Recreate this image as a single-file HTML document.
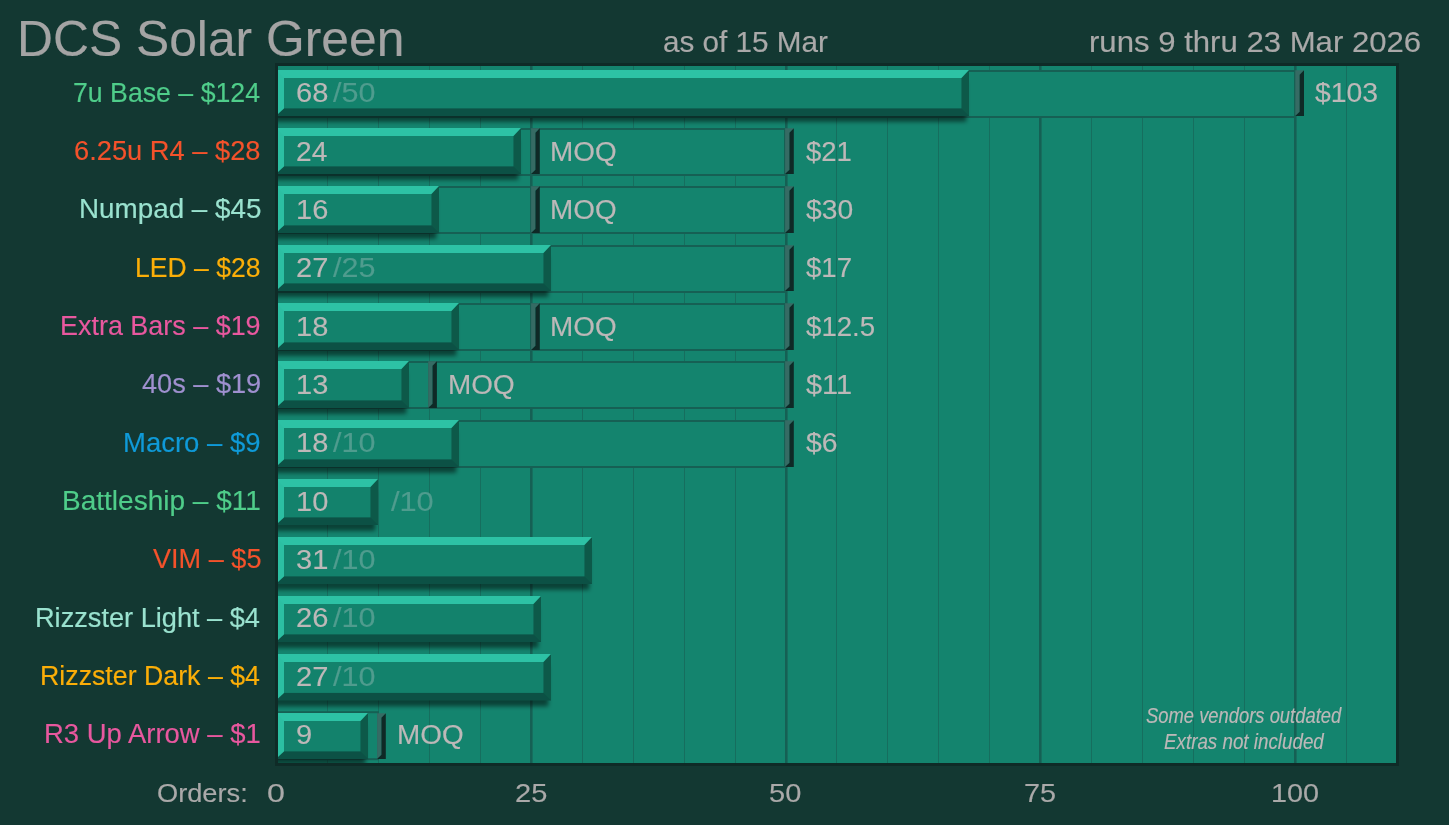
<!DOCTYPE html>
<html lang="en"><head><meta charset="utf-8"><title>DCS Solar Green</title>
<style>
html,body{margin:0;padding:0}
body{width:1449px;height:825px;background:#133832;overflow:hidden;position:relative;font-family:"Liberation Sans",Arial,sans-serif}
#chart{position:absolute;left:0;top:0;width:1449px;height:825px;display:block}
.t{position:absolute;white-space:nowrap;line-height:1;transform-origin:0 0;color:#bdb8b8;-webkit-text-stroke:.15px currentColor}
.tt{color:#a4a4a4}
.hd{color:#aaa9a9}
.ax{color:#aaa9a9}
.rc{color:#4f9c8e}
.nt{font-style:italic;color:#bdb8b8}
</style></head><body>
<svg id="chart" width="1449" height="825" viewBox="0 0 1449 825">
<defs>
<filter id="sh" x="-5%" y="-50%" width="110%" height="200%"><feGaussianBlur stdDeviation="2.3"/></filter>
<clipPath id="cp"><rect x="278" y="66" width="1118" height="697"/></clipPath>
</defs>
<rect x="275" y="63" width="1124" height="703" fill="#0f2b27"/>
<rect x="278" y="66" width="1118" height="697" fill="#14846e"/>
<g clip-path="url(#cp)">
<rect x="275" y="60" width="2" height="710" fill="#156054"/><rect x="277" y="60" width="1" height="710" fill="#166e5e"/>
<rect x="327" y="60" width="1" height="710" fill="#166e5e"/>
<rect x="378" y="60" width="1" height="710" fill="#166e5e"/>
<rect x="429" y="60" width="1" height="710" fill="#166e5e"/>
<rect x="480" y="60" width="1" height="710" fill="#166e5e"/>
<rect x="530" y="60" width="2" height="710" fill="#156054"/><rect x="532" y="60" width="1" height="710" fill="#166e5e"/>
<rect x="582" y="60" width="1" height="710" fill="#166e5e"/>
<rect x="633" y="60" width="1" height="710" fill="#166e5e"/>
<rect x="684" y="60" width="1" height="710" fill="#166e5e"/>
<rect x="735" y="60" width="1" height="710" fill="#166e5e"/>
<rect x="785" y="60" width="2" height="710" fill="#156054"/><rect x="787" y="60" width="1" height="710" fill="#166e5e"/>
<rect x="836" y="60" width="1" height="710" fill="#166e5e"/>
<rect x="887" y="60" width="1" height="710" fill="#166e5e"/>
<rect x="938" y="60" width="1" height="710" fill="#166e5e"/>
<rect x="989" y="60" width="1" height="710" fill="#166e5e"/>
<rect x="1039" y="60" width="2" height="710" fill="#156054"/><rect x="1041" y="60" width="1" height="710" fill="#166e5e"/>
<rect x="1091" y="60" width="1" height="710" fill="#166e5e"/>
<rect x="1142" y="60" width="1" height="710" fill="#166e5e"/>
<rect x="1193" y="60" width="1" height="710" fill="#166e5e"/>
<rect x="1244" y="60" width="1" height="710" fill="#166e5e"/>
<rect x="1294" y="60" width="2" height="710" fill="#156054"/><rect x="1296" y="60" width="1" height="710" fill="#166e5e"/>
<rect x="1346" y="60" width="1" height="710" fill="#166e5e"/>
<rect x="1397" y="60" width="1" height="710" fill="#166e5e"/>
<g><rect x="273.70" y="71.00" width="1021.30" height="46.00" fill="#14846e" stroke="#166054" stroke-width="2.00"/><polygon points="1295.30,70.30 1304.00,70.30 1299.65,74.65 1299.65,111.65 1295.30,116.00" fill="#366b64"/><polygon points="1304.00,70.30 1304.00,116.00 1295.30,116.00 1299.65,111.65 1299.65,74.65" fill="#0f2926"/><rect x="273.30" y="82.00" width="693.00" height="39.80" fill="#000" fill-opacity=".5" filter="url(#sh)"/><rect x="276.00" y="70.00" width="693.00" height="46.00" fill="#0c5145"/><polygon points="969.00,70.00 969.00,116.00 961.50,108.40 961.50,70.00" fill="#0d5949"/><polygon points="276.00,70.00 284.00,70.00 284.00,108.40 276.00,116.00" fill="#2cbfa2"/><polygon points="276.00,70.00 969.00,70.00 961.50,78.00 284.00,78.00" fill="#2dc2a5"/><rect x="284.00" y="78.00" width="677.50" height="30.40" fill="#13826c"/></g>
<g><rect x="273.70" y="129.00" width="511.30" height="46.00" fill="#14846e" stroke="#166054" stroke-width="2.00"/><rect x="273.70" y="129.00" width="257.30" height="46.00" fill="#14846e" stroke="#166054" stroke-width="2.00"/><polygon points="531.10,128.30 539.80,128.30 535.45,132.65 535.45,169.65 531.10,174.00" fill="#366b64"/><polygon points="539.80,128.30 539.80,174.00 531.10,174.00 535.45,169.65 535.45,132.65" fill="#0f2926"/><polygon points="785.10,128.30 793.80,128.30 789.45,132.65 789.45,169.65 785.10,174.00" fill="#366b64"/><polygon points="793.80,128.30 793.80,174.00 785.10,174.00 789.45,169.65 789.45,132.65" fill="#0f2926"/><rect x="273.30" y="140.00" width="245.00" height="39.80" fill="#000" fill-opacity=".5" filter="url(#sh)"/><rect x="276.00" y="128.00" width="245.00" height="46.00" fill="#0c5145"/><polygon points="521.00,128.00 521.00,174.00 513.50,166.40 513.50,128.00" fill="#0d5949"/><polygon points="276.00,128.00 284.00,128.00 284.00,166.40 276.00,174.00" fill="#2cbfa2"/><polygon points="276.00,128.00 521.00,128.00 513.50,136.00 284.00,136.00" fill="#2dc2a5"/><rect x="284.00" y="136.00" width="229.50" height="30.40" fill="#13826c"/></g>
<g><rect x="273.70" y="187.00" width="511.30" height="46.00" fill="#14846e" stroke="#166054" stroke-width="2.00"/><rect x="273.70" y="187.00" width="257.30" height="46.00" fill="#14846e" stroke="#166054" stroke-width="2.00"/><polygon points="531.10,186.30 539.80,186.30 535.45,190.65 535.45,228.65 531.10,233.00" fill="#366b64"/><polygon points="539.80,186.30 539.80,233.00 531.10,233.00 535.45,228.65 535.45,190.65" fill="#0f2926"/><polygon points="785.10,186.30 793.80,186.30 789.45,190.65 789.45,228.65 785.10,233.00" fill="#366b64"/><polygon points="793.80,186.30 793.80,233.00 785.10,233.00 789.45,228.65 789.45,190.65" fill="#0f2926"/><rect x="273.30" y="198.00" width="163.00" height="40.80" fill="#000" fill-opacity=".5" filter="url(#sh)"/><rect x="276.00" y="186.00" width="163.00" height="47.00" fill="#0c5145"/><polygon points="439.00,186.00 439.00,233.00 431.50,225.40 431.50,186.00" fill="#0d5949"/><polygon points="276.00,186.00 284.00,186.00 284.00,225.40 276.00,233.00" fill="#2cbfa2"/><polygon points="276.00,186.00 439.00,186.00 431.50,194.00 284.00,194.00" fill="#2dc2a5"/><rect x="284.00" y="194.00" width="147.50" height="31.40" fill="#13826c"/></g>
<g><rect x="273.70" y="246.00" width="511.30" height="46.00" fill="#14846e" stroke="#166054" stroke-width="2.00"/><polygon points="785.10,245.30 793.80,245.30 789.45,249.65 789.45,286.65 785.10,291.00" fill="#366b64"/><polygon points="793.80,245.30 793.80,291.00 785.10,291.00 789.45,286.65 789.45,249.65" fill="#0f2926"/><rect x="273.30" y="257.00" width="275.00" height="39.80" fill="#000" fill-opacity=".5" filter="url(#sh)"/><rect x="276.00" y="245.00" width="275.00" height="46.00" fill="#0c5145"/><polygon points="551.00,245.00 551.00,291.00 543.50,283.40 543.50,245.00" fill="#0d5949"/><polygon points="276.00,245.00 284.00,245.00 284.00,283.40 276.00,291.00" fill="#2cbfa2"/><polygon points="276.00,245.00 551.00,245.00 543.50,253.00 284.00,253.00" fill="#2dc2a5"/><rect x="284.00" y="253.00" width="259.50" height="30.40" fill="#13826c"/></g>
<g><rect x="273.70" y="304.00" width="511.30" height="46.00" fill="#14846e" stroke="#166054" stroke-width="2.00"/><rect x="273.70" y="304.00" width="257.30" height="46.00" fill="#14846e" stroke="#166054" stroke-width="2.00"/><polygon points="531.10,303.30 539.80,303.30 535.45,307.65 535.45,345.65 531.10,350.00" fill="#366b64"/><polygon points="539.80,303.30 539.80,350.00 531.10,350.00 535.45,345.65 535.45,307.65" fill="#0f2926"/><polygon points="785.10,303.30 793.80,303.30 789.45,307.65 789.45,345.65 785.10,350.00" fill="#366b64"/><polygon points="793.80,303.30 793.80,350.00 785.10,350.00 789.45,345.65 789.45,307.65" fill="#0f2926"/><rect x="273.30" y="315.00" width="183.00" height="40.80" fill="#000" fill-opacity=".5" filter="url(#sh)"/><rect x="276.00" y="303.00" width="183.00" height="47.00" fill="#0c5145"/><polygon points="459.00,303.00 459.00,350.00 451.50,342.40 451.50,303.00" fill="#0d5949"/><polygon points="276.00,303.00 284.00,303.00 284.00,342.40 276.00,350.00" fill="#2cbfa2"/><polygon points="276.00,303.00 459.00,303.00 451.50,311.00 284.00,311.00" fill="#2dc2a5"/><rect x="284.00" y="311.00" width="167.50" height="31.40" fill="#13826c"/></g>
<g><rect x="273.70" y="362.00" width="511.30" height="46.00" fill="#14846e" stroke="#166054" stroke-width="2.00"/><rect x="273.70" y="362.00" width="155.30" height="46.00" fill="#14846e" stroke="#166054" stroke-width="2.00"/><polygon points="428.20,361.30 436.90,361.30 432.55,365.65 432.55,403.65 428.20,408.00" fill="#366b64"/><polygon points="436.90,361.30 436.90,408.00 428.20,408.00 432.55,403.65 432.55,365.65" fill="#0f2926"/><polygon points="785.10,361.30 793.80,361.30 789.45,365.65 789.45,403.65 785.10,408.00" fill="#366b64"/><polygon points="793.80,361.30 793.80,408.00 785.10,408.00 789.45,403.65 789.45,365.65" fill="#0f2926"/><rect x="273.30" y="373.00" width="133.00" height="40.80" fill="#000" fill-opacity=".5" filter="url(#sh)"/><rect x="276.00" y="361.00" width="133.00" height="47.00" fill="#0c5145"/><polygon points="409.00,361.00 409.00,408.00 401.50,400.40 401.50,361.00" fill="#0d5949"/><polygon points="276.00,361.00 284.00,361.00 284.00,400.40 276.00,408.00" fill="#2cbfa2"/><polygon points="276.00,361.00 409.00,361.00 401.50,369.00 284.00,369.00" fill="#2dc2a5"/><rect x="284.00" y="369.00" width="117.50" height="31.40" fill="#13826c"/></g>
<g><rect x="273.70" y="421.00" width="511.30" height="46.00" fill="#14846e" stroke="#166054" stroke-width="2.00"/><polygon points="785.10,420.30 793.80,420.30 789.45,424.65 789.45,462.65 785.10,467.00" fill="#366b64"/><polygon points="793.80,420.30 793.80,467.00 785.10,467.00 789.45,462.65 789.45,424.65" fill="#0f2926"/><rect x="273.30" y="432.00" width="183.00" height="40.80" fill="#000" fill-opacity=".5" filter="url(#sh)"/><rect x="276.00" y="420.00" width="183.00" height="47.00" fill="#0c5145"/><polygon points="459.00,420.00 459.00,467.00 451.50,459.40 451.50,420.00" fill="#0d5949"/><polygon points="276.00,420.00 284.00,420.00 284.00,459.40 276.00,467.00" fill="#2cbfa2"/><polygon points="276.00,420.00 459.00,420.00 451.50,428.00 284.00,428.00" fill="#2dc2a5"/><rect x="284.00" y="428.00" width="167.50" height="31.40" fill="#13826c"/></g>
<g><rect x="273.30" y="491.00" width="102.00" height="39.80" fill="#000" fill-opacity=".5" filter="url(#sh)"/><rect x="276.00" y="479.00" width="102.00" height="46.00" fill="#0c5145"/><polygon points="378.00,479.00 378.00,525.00 370.50,517.40 370.50,479.00" fill="#0d5949"/><polygon points="276.00,479.00 284.00,479.00 284.00,517.40 276.00,525.00" fill="#2cbfa2"/><polygon points="276.00,479.00 378.00,479.00 370.50,487.00 284.00,487.00" fill="#2dc2a5"/><rect x="284.00" y="487.00" width="86.50" height="30.40" fill="#13826c"/></g>
<g><rect x="273.30" y="549.00" width="316.00" height="40.80" fill="#000" fill-opacity=".5" filter="url(#sh)"/><rect x="276.00" y="537.00" width="316.00" height="47.00" fill="#0c5145"/><polygon points="592.00,537.00 592.00,584.00 584.50,576.40 584.50,537.00" fill="#0d5949"/><polygon points="276.00,537.00 284.00,537.00 284.00,576.40 276.00,584.00" fill="#2cbfa2"/><polygon points="276.00,537.00 592.00,537.00 584.50,545.00 284.00,545.00" fill="#2dc2a5"/><rect x="284.00" y="545.00" width="300.50" height="31.40" fill="#13826c"/></g>
<g><rect x="273.30" y="608.00" width="265.00" height="39.80" fill="#000" fill-opacity=".5" filter="url(#sh)"/><rect x="276.00" y="596.00" width="265.00" height="46.00" fill="#0c5145"/><polygon points="541.00,596.00 541.00,642.00 533.50,634.40 533.50,596.00" fill="#0d5949"/><polygon points="276.00,596.00 284.00,596.00 284.00,634.40 276.00,642.00" fill="#2cbfa2"/><polygon points="276.00,596.00 541.00,596.00 533.50,604.00 284.00,604.00" fill="#2dc2a5"/><rect x="284.00" y="604.00" width="249.50" height="30.40" fill="#13826c"/></g>
<g><rect x="273.30" y="666.00" width="275.00" height="40.30" fill="#000" fill-opacity=".5" filter="url(#sh)"/><rect x="276.00" y="654.00" width="275.00" height="46.50" fill="#0c5145"/><polygon points="551.00,654.00 551.00,700.50 543.50,692.90 543.50,654.00" fill="#0d5949"/><polygon points="276.00,654.00 284.00,654.00 284.00,692.90 276.00,700.50" fill="#2cbfa2"/><polygon points="276.00,654.00 551.00,654.00 543.50,662.00 284.00,662.00" fill="#2dc2a5"/><rect x="284.00" y="662.00" width="259.50" height="30.90" fill="#13826c"/></g>
<g><rect x="273.70" y="712.20" width="104.30" height="47.00" fill="#14846e" stroke="#166054" stroke-width="2.00"/><polygon points="377.10,713.30 385.80,713.30 381.45,717.65 381.45,754.65 377.10,759.00" fill="#366b64"/><polygon points="385.80,713.30 385.80,759.00 377.10,759.00 381.45,754.65 381.45,717.65" fill="#0f2926"/><rect x="273.30" y="725.00" width="92.00" height="39.80" fill="#000" fill-opacity=".5" filter="url(#sh)"/><rect x="276.00" y="713.00" width="92.00" height="46.00" fill="#0c5145"/><polygon points="368.00,713.00 368.00,759.00 360.50,751.40 360.50,713.00" fill="#0d5949"/><polygon points="276.00,713.00 284.00,713.00 284.00,751.40 276.00,759.00" fill="#2cbfa2"/><polygon points="276.00,713.00 368.00,713.00 360.50,721.00 284.00,721.00" fill="#2dc2a5"/><rect x="284.00" y="721.00" width="76.50" height="30.40" fill="#13826c"/></g>
</g>
</svg>
<div id="title" class="t tt" style="left:16.56px;top:13.50px;font-size:50.5px;transform:scaleX(0.9858);">DCS Solar Green</div>
<div id="asof" class="t hd" style="left:662.97px;top:28.00px;font-size:28.7px;transform:scaleX(1.0340);">as of 15 Mar</div>
<div id="runs" class="t hd" style="left:1088.62px;top:28.00px;font-size:28.7px;transform:scaleX(1.0849);">runs 9 thru 23 Mar 2026</div>
<div id="orders" class="t ax" style="left:157.27px;top:779.90px;font-size:26.5px;transform:scaleX(1.0271);">Orders:</div>
<div id="tick0" class="t ax" style="left:267.38px;top:779.90px;font-size:26.5px;transform:scaleX(1.2154);">0</div>
<div id="tick25" class="t ax" style="left:514.50px;top:779.90px;font-size:26.5px;transform:scaleX(1.0964);">25</div>
<div id="tick50" class="t ax" style="left:769.20px;top:779.90px;font-size:26.5px;transform:scaleX(1.0964);">50</div>
<div id="tick75" class="t ax" style="left:1023.91px;top:779.90px;font-size:26.5px;transform:scaleX(1.0893);">75</div>
<div id="tick100" class="t ax" style="left:1271.03px;top:779.90px;font-size:26.5px;transform:scaleX(1.0857);">100</div>
<div id="note1" class="t nt" style="left:1145.90px;top:704.90px;font-size:21.2px;transform:scaleX(0.8677);">Some vendors outdated</div>
<div id="note2" class="t nt" style="left:1163.50px;top:730.80px;font-size:21.2px;transform:scaleX(0.8867);">Extras not included</div>
<div id="lab0" class="t lb" style="left:73.12px;top:78.60px;font-size:27.3px;transform:scaleX(0.9779);color:#4fcd8a">7u Base – $124</div>
<div id="val0" class="t vl" style="left:295.52px;top:80.20px;font-size:27px;transform:scaleX(1.0786);">68</div>
<div id="rch0" class="t rc" style="left:333.00px;top:80.20px;font-size:27px;transform:scaleX(1.1297);">/50</div>
<div id="prc0" class="t vl" style="left:1314.90px;top:80.20px;font-size:27px;transform:scaleX(1.0508);">$103</div>
<div id="lab1" class="t lb" style="left:74.10px;top:136.93px;font-size:27.3px;transform:scaleX(0.9989);color:#f4522b">6.25u R4 – $28</div>
<div id="val1" class="t vl" style="left:295.56px;top:138.53px;font-size:27px;transform:scaleX(1.0414);">24</div>
<div id="moq1" class="t vl" style="left:549.51px;top:138.53px;font-size:27px;transform:scaleX(1.0323);">MOQ</div>
<div id="prc1" class="t vl" style="left:805.55px;top:138.53px;font-size:27px;transform:scaleX(1.0182);">$21</div>
<div id="lab2" class="t lb" style="left:78.56px;top:195.26px;font-size:27.3px;transform:scaleX(1.0187);color:#9ae2cf">Numpad – $45</div>
<div id="val2" class="t vl" style="left:295.65px;top:196.86px;font-size:27px;transform:scaleX(1.0741);">16</div>
<div id="moq2" class="t vl" style="left:549.51px;top:196.86px;font-size:27px;transform:scaleX(1.0323);">MOQ</div>
<div id="prc2" class="t vl" style="left:805.55px;top:196.86px;font-size:27px;transform:scaleX(1.0455);">$30</div>
<div id="lab3" class="t lb" style="left:135.35px;top:253.59px;font-size:27.3px;transform:scaleX(0.9730);color:#fbae08">LED – $28</div>
<div id="val3" class="t vl" style="left:295.52px;top:255.19px;font-size:27px;transform:scaleX(1.0786);">27</div>
<div id="rch3" class="t rc" style="left:333.00px;top:255.19px;font-size:27px;transform:scaleX(1.1297);">/25</div>
<div id="prc3" class="t vl" style="left:805.55px;top:255.19px;font-size:27px;transform:scaleX(1.0227);">$17</div>
<div id="lab4" class="t lb" style="left:59.63px;top:311.92px;font-size:27.3px;transform:scaleX(0.9866);color:#e8589f">Extra Bars – $19</div>
<div id="val4" class="t vl" style="left:295.65px;top:313.52px;font-size:27px;transform:scaleX(1.0741);">18</div>
<div id="moq4" class="t vl" style="left:549.51px;top:313.52px;font-size:27px;transform:scaleX(1.0323);">MOQ</div>
<div id="prc4" class="t vl" style="left:805.55px;top:313.52px;font-size:27px;transform:scaleX(1.0239);">$12.5</div>
<div id="lab5" class="t lb" style="left:141.60px;top:370.25px;font-size:27.3px;transform:scaleX(0.9941);color:#9f90cf">40s – $19</div>
<div id="val5" class="t vl" style="left:295.65px;top:371.85px;font-size:27px;transform:scaleX(1.0741);">13</div>
<div id="moq5" class="t vl" style="left:447.64px;top:371.85px;font-size:27px;transform:scaleX(1.0323);">MOQ</div>
<div id="prc5" class="t vl" style="left:805.55px;top:371.85px;font-size:27px;transform:scaleX(1.0714);">$11</div>
<div id="lab6" class="t lb" style="left:122.89px;top:428.58px;font-size:27.3px;transform:scaleX(1.0075);color:#0f9ad8">Macro – $9</div>
<div id="val6" class="t vl" style="left:295.65px;top:430.18px;font-size:27px;transform:scaleX(1.0741);">18</div>
<div id="rch6" class="t rc" style="left:333.00px;top:430.18px;font-size:27px;transform:scaleX(1.1297);">/10</div>
<div id="prc6" class="t vl" style="left:805.55px;top:430.18px;font-size:27px;transform:scaleX(1.0517);">$6</div>
<div id="lab7" class="t lb" style="left:61.75px;top:486.91px;font-size:27.3px;transform:scaleX(1.0267);color:#4fcd8a">Battleship – $11</div>
<div id="val7" class="t vl" style="left:295.65px;top:488.51px;font-size:27px;transform:scaleX(1.0741);">10</div>
<div id="rch7" class="t rc" style="left:390.90px;top:488.51px;font-size:27px;transform:scaleX(1.1378);">/10</div>
<div id="lab8" class="t lb" style="left:152.60px;top:545.24px;font-size:27.3px;transform:scaleX(0.9935);color:#f4522b">VIM – $5</div>
<div id="val8" class="t vl" style="left:295.52px;top:546.84px;font-size:27px;transform:scaleX(1.0786);">31</div>
<div id="rch8" class="t rc" style="left:333.00px;top:546.84px;font-size:27px;transform:scaleX(1.1297);">/10</div>
<div id="lab9" class="t lb" style="left:35.01px;top:603.57px;font-size:27.3px;transform:scaleX(0.9951);color:#9ae2cf">Rizzster Light – $4</div>
<div id="val9" class="t vl" style="left:295.52px;top:605.17px;font-size:27px;transform:scaleX(1.0786);">26</div>
<div id="rch9" class="t rc" style="left:333.00px;top:605.17px;font-size:27px;transform:scaleX(1.1297);">/10</div>
<div id="lab10" class="t lb" style="left:40.44px;top:661.90px;font-size:27.3px;transform:scaleX(0.9797);color:#fbae08">Rizzster Dark – $4</div>
<div id="val10" class="t vl" style="left:295.52px;top:663.50px;font-size:27px;transform:scaleX(1.0786);">27</div>
<div id="rch10" class="t rc" style="left:333.00px;top:663.50px;font-size:27px;transform:scaleX(1.1297);">/10</div>
<div id="lab11" class="t lb" style="left:43.59px;top:720.23px;font-size:27.3px;transform:scaleX(1.0061);color:#e8589f">R3 Up Arrow – $1</div>
<div id="val11" class="t vl" style="left:295.52px;top:721.83px;font-size:27px;transform:scaleX(1.0769);">9</div>
<div id="moq11" class="t vl" style="left:396.71px;top:721.83px;font-size:27px;transform:scaleX(1.0323);">MOQ</div>
</body></html>
